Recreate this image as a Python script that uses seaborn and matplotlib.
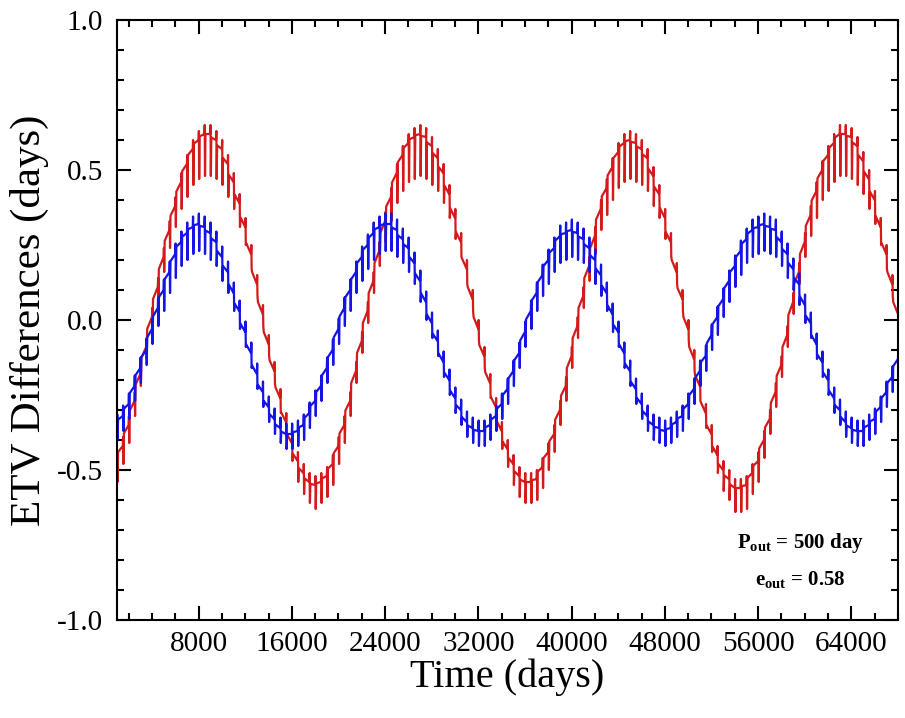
import numpy as np
import pandas as pd
import matplotlib
matplotlib.use('Agg')
import matplotlib.pyplot as plt
import seaborn as sns
from matplotlib.ticker import MultipleLocator

# 内轨道周期 (days)，每个周期一个尖峰
P_OUT = 500
cycle_t = np.arange(1000, 68001, P_OUT)

# 每个周期的ETV水平 (days)
red_level = [-0.47, -0.42, -0.35, -0.27, -0.18, -0.09, 0.01, 0.11, 0.21, 0.30,
             0.38, 0.46, 0.52, 0.57, 0.60, 0.62, 0.62, 0.60, 0.57, 0.52,
             0.46, 0.39, 0.31, 0.22, 0.12, 0.02, -0.08, -0.17, -0.26, -0.34,
             -0.41, -0.47, -0.51, -0.54, -0.55, -0.54, -0.52, -0.48, -0.42, -0.35,
             -0.27, -0.17, -0.07, 0.03, 0.13, 0.23, 0.33, 0.41, 0.49, 0.55,
             0.59, 0.61, 0.62, 0.61, 0.58, 0.54, 0.49, 0.42, 0.34, 0.26,
             0.17, 0.07, -0.03, -0.12, -0.21, -0.29, -0.37, -0.43, -0.48, -0.52,
             -0.54, -0.54, -0.53, -0.49, -0.44, -0.38, -0.30, -0.22, -0.12, -0.02,
             0.08, 0.18, 0.28, 0.37, 0.44, 0.51, 0.56, 0.59, 0.60, 0.59,
             0.57, 0.54, 0.48, 0.42, 0.34, 0.26, 0.16, 0.07, -0.03, -0.13,
             -0.22, -0.31, -0.38, -0.45, -0.50, -0.53, -0.56, -0.56, -0.55, -0.51,
             -0.47, -0.40, -0.33, -0.24, -0.15, -0.05, 0.06, 0.16, 0.26, 0.35,
             0.43, 0.50, 0.55, 0.59, 0.62, 0.62, 0.61, 0.58, 0.53, 0.47,
             0.40, 0.31, 0.22, 0.12, 0.02]
blue_level = [-0.35, -0.32, -0.28, -0.22, -0.16, -0.10, -0.03, 0.04, 0.10, 0.16,
              0.22, 0.26, 0.29, 0.31, 0.32, 0.31, 0.29, 0.26, 0.21, 0.16,
              0.09, 0.03, -0.04, -0.11, -0.18, -0.24, -0.29, -0.33, -0.36, -0.38,
              -0.38, -0.37, -0.35, -0.31, -0.27, -0.22, -0.16, -0.10, -0.03, 0.04,
              0.10, 0.16, 0.21, 0.25, 0.29, 0.31, 0.32, 0.32, 0.30, 0.27,
              0.24, 0.19, 0.13, 0.06, -0.01, -0.07, -0.14, -0.20, -0.26, -0.30,
              -0.34, -0.36, -0.37, -0.37, -0.35, -0.32, -0.28, -0.23, -0.17, -0.11,
              -0.04, 0.03, 0.09, 0.15, 0.20, 0.24, 0.28, 0.29, 0.30, 0.29,
              0.27, 0.24, 0.20, 0.15, 0.09, 0.02, -0.04, -0.11, -0.17, -0.23,
              -0.28, -0.32, -0.35, -0.36, -0.37, -0.36, -0.34, -0.32, -0.28, -0.23,
              -0.17, -0.12, -0.05, 0.01, 0.07, 0.13, 0.18, 0.23, 0.27, 0.30,
              0.31, 0.32, 0.31, 0.30, 0.26, 0.22, 0.17, 0.12, 0.05, -0.01,
              -0.08, -0.14, -0.20, -0.26, -0.30, -0.34, -0.36, -0.37, -0.37, -0.35,
              -0.33, -0.29, -0.24, -0.19, -0.13]

# 每个周期尖峰向下的深度 (days)
red_spike = [0.07, 0.06, 0.06, 0.05, 0.04, 0.04, 0.04, 0.04, 0.05, 0.06,
             0.07, 0.09, 0.11, 0.12, 0.13, 0.14, 0.14, 0.13, 0.12, 0.11,
             0.09, 0.08, 0.06, 0.05, 0.04, 0.04, 0.04, 0.04, 0.05, 0.05,
             0.06, 0.07, 0.07, 0.07, 0.08, 0.07, 0.07, 0.07, 0.06, 0.06,
             0.05, 0.04, 0.04, 0.04, 0.04, 0.05, 0.07, 0.08, 0.10, 0.12,
             0.13, 0.14, 0.14, 0.14, 0.13, 0.11, 0.10, 0.08, 0.07, 0.05,
             0.05, 0.04, 0.04, 0.04, 0.05, 0.05, 0.06, 0.06, 0.07, 0.07,
             0.07, 0.07, 0.07, 0.07, 0.06, 0.06, 0.05, 0.05, 0.04, 0.04,
             0.04, 0.05, 0.06, 0.07, 0.09, 0.11, 0.12, 0.13, 0.13, 0.13,
             0.12, 0.11, 0.10, 0.08, 0.07, 0.05, 0.04, 0.04, 0.04, 0.04,
             0.05, 0.05, 0.06, 0.06, 0.07, 0.07, 0.08, 0.08, 0.08, 0.07,
             0.07, 0.06, 0.05, 0.05, 0.04, 0.04, 0.04, 0.04, 0.05, 0.07,
             0.09, 0.10, 0.12, 0.13, 0.14, 0.14, 0.14, 0.13, 0.11, 0.10,
             0.08, 0.06, 0.05, 0.04, 0.04]
blue_spike = [0.05, 0.05, 0.05, 0.05, 0.05, 0.05, 0.05, 0.06, 0.07, 0.07,
              0.08, 0.08, 0.09, 0.09, 0.09, 0.09, 0.09, 0.08, 0.08, 0.07,
              0.06, 0.06, 0.05, 0.05, 0.05, 0.05, 0.05, 0.05, 0.05, 0.05,
              0.05, 0.05, 0.05, 0.05, 0.05, 0.05, 0.05, 0.05, 0.05, 0.06,
              0.07, 0.07, 0.08, 0.08, 0.09, 0.09, 0.09, 0.09, 0.09, 0.08,
              0.08, 0.07, 0.07, 0.06, 0.05, 0.05, 0.05, 0.05, 0.05, 0.05,
              0.05, 0.05, 0.05, 0.05, 0.05, 0.05, 0.05, 0.05, 0.05, 0.05,
              0.05, 0.06, 0.06, 0.07, 0.08, 0.08, 0.09, 0.09, 0.09, 0.09,
              0.08, 0.08, 0.08, 0.07, 0.06, 0.06, 0.05, 0.05, 0.05, 0.05,
              0.05, 0.05, 0.05, 0.05, 0.05, 0.05, 0.05, 0.05, 0.05, 0.05,
              0.05, 0.05, 0.05, 0.06, 0.06, 0.07, 0.07, 0.08, 0.08, 0.09,
              0.09, 0.09, 0.09, 0.09, 0.08, 0.08, 0.07, 0.07, 0.06, 0.05,
              0.05, 0.05, 0.05, 0.05, 0.05, 0.05, 0.05, 0.05, 0.05, 0.05,
              0.05, 0.05, 0.05, 0.05, 0.05]
red_bump, blue_bump = 0.03, 0.035


# 把每个周期展开成折线：小凸起 -> 尖峰 -> 台阶
def expand(levels, spikes, bump):
    ts, vs = [], []
    for k, t0 in enumerate(cycle_t):
        b = levels[k]
        nb = levels[k + 1] if k + 1 < len(levels) else b
        ts += [t0, t0 + 25, t0 + 50, t0 + 90]
        vs += [b, b + bump, b - spikes[k], b + 0.6 * (nb - b)]
    return ts, vs


rt, rv = expand(red_level, red_spike, red_bump)
bt, bv = expand(blue_level, blue_spike, blue_bump)
df = pd.DataFrame({'t': rt + bt, 'v': rv + bv,
                   'series': ['red'] * len(rt) + ['blue'] * len(bt)})

sns.set_theme(style='ticks')
plt.rcParams['font.family'] = ['Liberation Serif', 'DejaVu Serif']
plt.rcParams['mathtext.fontset'] = 'custom'
plt.rcParams['mathtext.rm'] = 'Liberation Serif'
plt.rcParams['mathtext.bf'] = 'Liberation Serif:bold'
plt.rcParams['text.color'] = 'black'
plt.rcParams['axes.labelcolor'] = 'black'

fig = plt.figure(figsize=(9.05, 7.18), dpi=100)
ax = fig.add_axes([117 / 905, 1 - 620 / 718, 781 / 905, 600 / 718])
sns.lineplot(data=df, x='t', y='v', hue='series',
             palette={'red': '#D41A1A', 'blue': '#1414E6'},
             estimator=None, sort=False, legend=False, lw=1.6, ax=ax)

ax.set_xlim(1000, 68000)
ax.set_ylim(-1.0, 1.0)
ax.xaxis.set_major_locator(MultipleLocator(8000))
ax.xaxis.set_minor_locator(MultipleLocator(2000))
ax.yaxis.set_major_locator(MultipleLocator(0.5))
ax.yaxis.set_minor_locator(MultipleLocator(0.1))
ax.yaxis.set_major_formatter(lambda v, p: f'{v:.1f}')
ax.tick_params(which='both', direction='in', top=True, right=True, width=1.5, colors='black')
ax.tick_params(which='major', length=10)
ax.tick_params(which='minor', length=5)
ax.tick_params(axis='x', labelsize=21, pad=8)
ax.tick_params(axis='y', labelsize=21, pad=10)
for s in ax.spines.values():
    s.set_linewidth(1.5)
    s.set_color('black')

ax.set_xlabel('Time (days)', fontsize=29, labelpad=1)
ax.set_ylabel('ETV Differences (days)', fontsize=31, labelpad=6)
ax.text(0.8745, 0.128, r'$\mathbf{P_{out}}$ = 500 day', transform=ax.transAxes,
        ha='center', va='center', fontsize=15, fontweight='bold')
ax.text(0.8745, 0.067, r'$\mathbf{e_{out}}$ = 0.58', transform=ax.transAxes,
        ha='center', va='center', fontsize=15, fontweight='bold')

fig.savefig('out.png', dpi=100)
plt.close(fig)
